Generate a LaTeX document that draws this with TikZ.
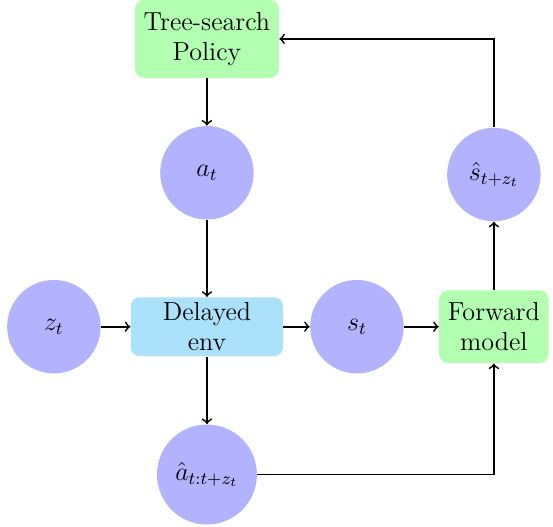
\documentclass[tikz,border=0pt]{standalone}
\usepackage{xcolor}
\usepackage{tikz}
\usetikzlibrary{arrows, positioning}

\definecolor{envblue}{RGB}{171,225,250}

\begin{document}
\begin{tikzpicture}[node distance=70pt, on grid]
\tikzstyle{statecirc} = [circle, fill=blue!30, minimum size=43pt, inner sep=2pt, font=\large]
\tikzstyle{modelbox} = [rectangle, fill=green!30, text centered, align=center, rounded corners, inner xsep=4pt, inner ysep=5.5pt, font=\large]
\tikzstyle{envbox} = [rectangle, fill=envblue, text centered, align=center, rounded corners, inner xsep=5pt, inner ysep=2.3pt, minimum width=70pt, font=\large]
\tikzstyle{arrow} = [thick, ->]

\useasboundingbox (-95.2pt,17.9pt) rectangle (159.2pt,-224.5pt);

\node (policy) [modelbox] {Tree-search\\Policy};
\node (act) [statecirc, below=61.6pt of policy] {$a_t$};
\node (env) [envbox, below=70.8pt of act] {Delayed\\env};
\node (delay) [statecirc, left=70.4pt of env] {$z_t$};
\node (state) [statecirc, right=69pt of env] {$s_t$};
\node (fwd) [modelbox, right=63pt of state] {Forward\\model};
\node (pred) [statecirc, above=70pt of fwd] {$\hat{s}_{t+z_t}$};
\node (queue) [statecirc, minimum size=46pt, below=68pt of env] {$\hat{a}_{t:t+z_t}$};

\draw [arrow] (policy) -- (act);
\draw [arrow] (act) -- (env);
\draw [arrow] (delay) -- (env);
\draw [arrow] (env) -- (state);
\draw [arrow] (state) -- (fwd);
\draw [arrow] (env) -- (queue);
\draw [arrow] (queue) -| (fwd);
\draw [arrow] (fwd) -- (pred);
\draw [arrow] (pred) |- (policy);

\end{tikzpicture}
\end{document}
